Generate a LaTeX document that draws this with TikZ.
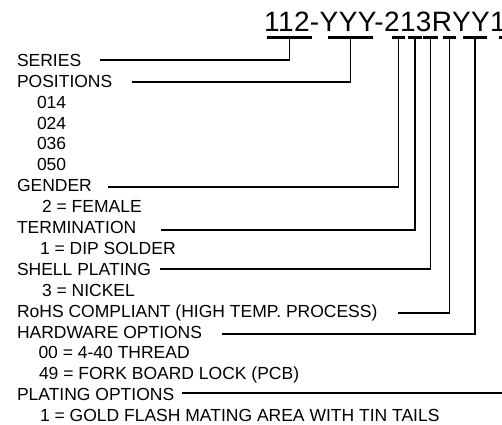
\documentclass[tikz,border=0pt]{standalone}
\usepackage{fontspec}
\setmainfont{Liberation Sans}
\newfontfamily\numfamily[LetterSpace=1.4]{Liberation Sans}
\newcommand\lblfont{\fontsize{17.5}{21}\selectfont}
\newcommand\numfont{\numfamily\fontsize{28}{30}\selectfont}
\begin{document}
\begin{tikzpicture}[x=1pt,y=-1pt,
  lbl/.style={anchor=base west,inner sep=0pt,outer sep=0pt,font=\lblfont},
  conn/.style={line width=1.4pt},
  uline/.style={line width=3pt}]
\useasboundingbox (0,0) rectangle (502,424);
\clip (0,0) rectangle (502,424);
% part number
\node[anchor=base west,inner sep=0pt,font=\numfont] (pn) at (264,31.7) {112-YYY-213RYY1};
% underlines
\draw[uline] (267,37.5) -- (312,37.5) coordinate[pos=0.5] (u1);
\draw[uline] (328,37.5) -- (373,37.5) coordinate[pos=0.5] (u2);
\draw[uline] (392,37.5) -- (405,37.5) coordinate[pos=0.5] (u3);
\draw[uline] (408,37.5) -- (422,37.5) coordinate[pos=0.5] (u4);
\draw[uline] (423,37.5) -- (438,37.5) coordinate[pos=0.5] (u5);
\draw[uline] (443,37.5) -- (456,37.5) coordinate[pos=0.5] (u6);
\draw[uline] (463,37.5) -- (487,37.5) coordinate[pos=0.5] (u7);
\draw[uline] (499,37.5) -- (513,37.5) coordinate[pos=0.5] (u8);
% labels
\def\bl#1{66.3+20.9*#1}
\node[lbl] (series)   at (17,{\bl{0}})  {SERIES};
\node[lbl] (pos)      at (17,{\bl{1}})  {POSITIONS};
\node[lbl] (p1)       at (37,{\bl{2}})  {014};
\node[lbl] (p2)       at (37,{\bl{3}})  {024};
\node[lbl] (p3)       at (37,{\bl{4}})  {036};
\node[lbl] (p4)       at (37,{\bl{5}})  {050};
\node[lbl] (gender)   at (17,{\bl{6}})  {GENDER};
\node[lbl] (g1)       at (42,{\bl{7}})  {2 = FEMALE};
\node[lbl] (term)     at (17,{\bl{8}})  {TERMINATION};
\node[lbl] (t1)       at (40,{\bl{9}})  {1 = DIP SOLDER};
\node[lbl] (shell)    at (17,{\bl{10}}) {SHELL PLATING};
\node[lbl] (s1)       at (42,{\bl{11}}) {3 = NICKEL};
\node[lbl] (rohs)     at (17,{\bl{12}}) {RoHS COMPLIANT (HIGH TEMP. PROCESS)};
\node[lbl] (hw)       at (17,{\bl{13}}) {HARDWARE OPTIONS};
\node[lbl] (h1)       at (38.5,{\bl{14}}) {00 = 4-40 THREAD};
\node[lbl] (h2)       at (39,{\bl{15}}) {49 = FORK BOARD LOCK (PCB)};
\node[lbl] (plat)     at (17,{\bl{16}}) {PLATING OPTIONS};
\node[lbl] (pl1)      at (40,{\bl{17}}) {1 = GOLD FLASH MATING AREA WITH TIN TAILS};
% connector starts
\coordinate (c1) at (100,60);
\coordinate (c2) at (132,82);
\coordinate (c3) at (108,187);
\coordinate (c4) at (161,230);
\coordinate (c5) at (160,269);
\coordinate (c6) at (398,313);
\coordinate (c7) at (222,334);
\coordinate (c8) at (182,393);
% connectors
\draw[conn] (c1) -| (u1);
\draw[conn] (c2) -| (u2);
\draw[conn] (c3) -| (u3);
\draw[conn] (c4) -| (u4);
\draw[conn] (c5) -| (u5);
\draw[conn] (c6) -| (u6);
\draw[conn] (c7) -| (u7);
\draw[conn] (c8) -| (u8);
\end{tikzpicture}
\end{document}
